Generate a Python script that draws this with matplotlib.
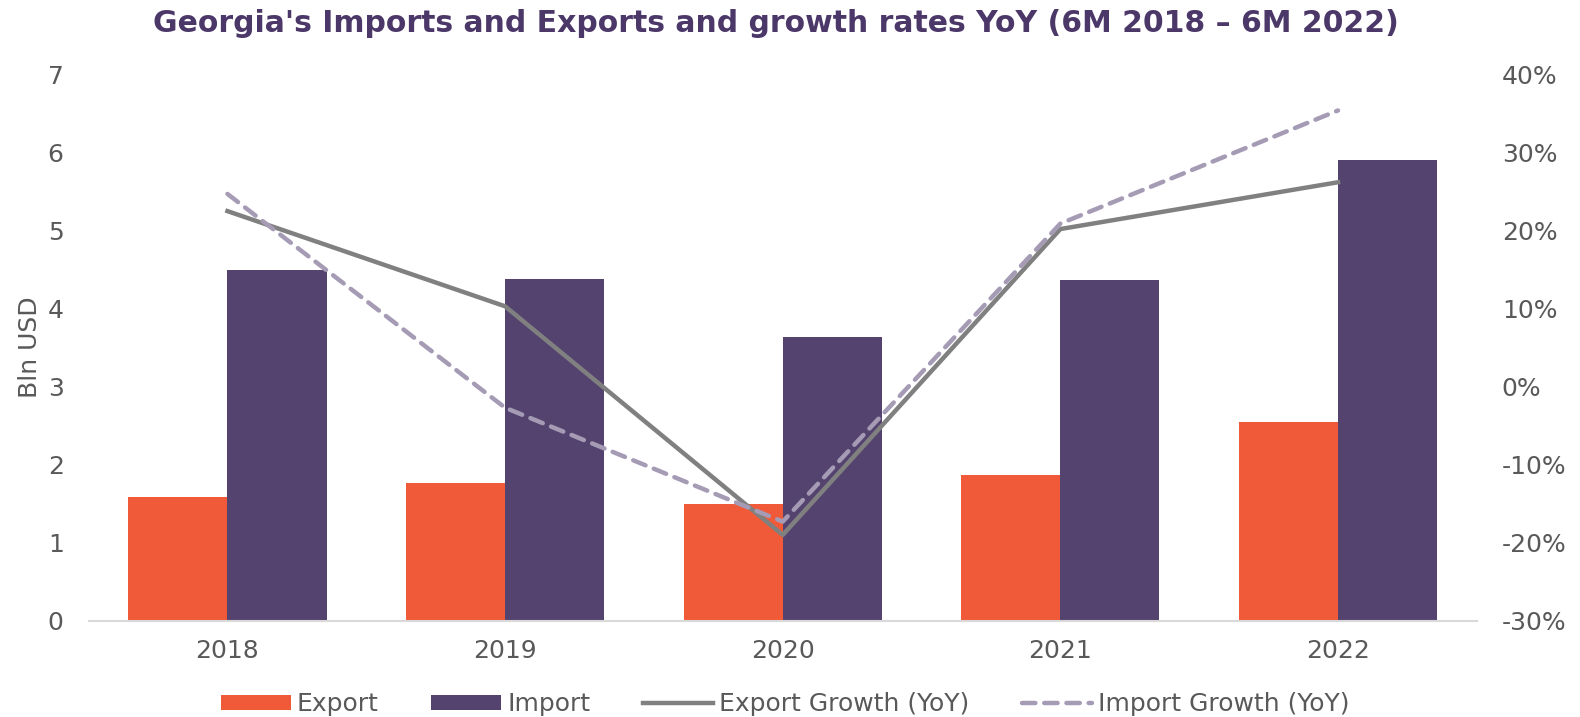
import matplotlib
matplotlib.use("Agg")
import matplotlib.pyplot as plt
import numpy as np
from matplotlib.ticker import FuncFormatter

years = ["2018", "2019", "2020", "2021", "2022"]
exports = [1.59, 1.77, 1.50, 1.87, 2.55]
imports = [4.50, 4.38, 3.63, 4.37, 5.90]
export_growth = [22.5, 10.3, -19.0, 20.2, 26.2]
import_growth = [24.7, -2.7, -17.3, 20.9, 35.4]

c_exp = "#F05A38"
c_imp = "#54436E"
c_eg = "#808080"
c_ig = "#A59BB5"
tc = "#595959"
fs = 18

fig = plt.figure(figsize=(15.8, 7.17), dpi=100)
ax = fig.add_axes([0.0561, 0.1343, 0.8786, 0.7617])
x = np.arange(len(years))
w = 0.357
ax.bar(x - w / 2, exports, w, color=c_exp, label="Export")
ax.bar(x + w / 2, imports, w, color=c_imp, label="Import")
ax.set_xlim(-0.5, 4.5)
ax.set_ylim(0, 7)
ax.set_yticks(range(0, 8))
ax.set_xticks(x)
ax.set_xticklabels(years)
for s in ["top", "right", "left"]:
    ax.spines[s].set_visible(False)
ax.spines["bottom"].set_color("#D9D9D9")
ax.spines["bottom"].set_linewidth(1.5)
ax.tick_params(axis="both", length=0, labelsize=fs, colors=tc)
ax.tick_params(axis="y", pad=18)
ax.tick_params(axis="x", pad=13)
ax.set_ylabel("Bln USD", fontsize=fs, color=tc, labelpad=4)

ax2 = ax.twinx()
ax2.plot(x, export_growth, color=c_eg, lw=3.2, label="Export Growth (YoY)")
ax2.plot(x, import_growth, color=c_ig, lw=3.2, ls=(0, (3, 2)),
         dash_capstyle="round", label="Import Growth (YoY)")
ax2.set_ylim(-30, 40)
ax2.set_yticks(range(-30, 41, 10))
ax2.yaxis.set_major_formatter(FuncFormatter(lambda v, p: f"{int(v)}%"))
for s in ["top", "right", "left", "bottom"]:
    ax2.spines[s].set_visible(False)
ax2.tick_params(axis="both", length=0, labelsize=fs, colors=tc, pad=18)

fig.suptitle("Georgia's Imports and Exports and growth rates YoY (6M 2018 \u2013 6M 2022)",
             x=0.491, y=0.988, fontsize=21.5, fontweight="bold", color="#4B3869")

h1, l1 = ax.get_legend_handles_labels()
h2, l2 = ax2.get_legend_handles_labels()
leg = fig.legend(h1 + h2, l1 + l2, loc="lower center", bbox_to_anchor=(0.497, -0.03), ncol=4,
                 frameon=False, fontsize=fs, handlelength=2.8, handleheight=0.55,
                 columnspacing=2.1, handletextpad=0.25)
for t in leg.get_texts():
    t.set_color(tc)

fig.savefig("out.png", dpi=100)
